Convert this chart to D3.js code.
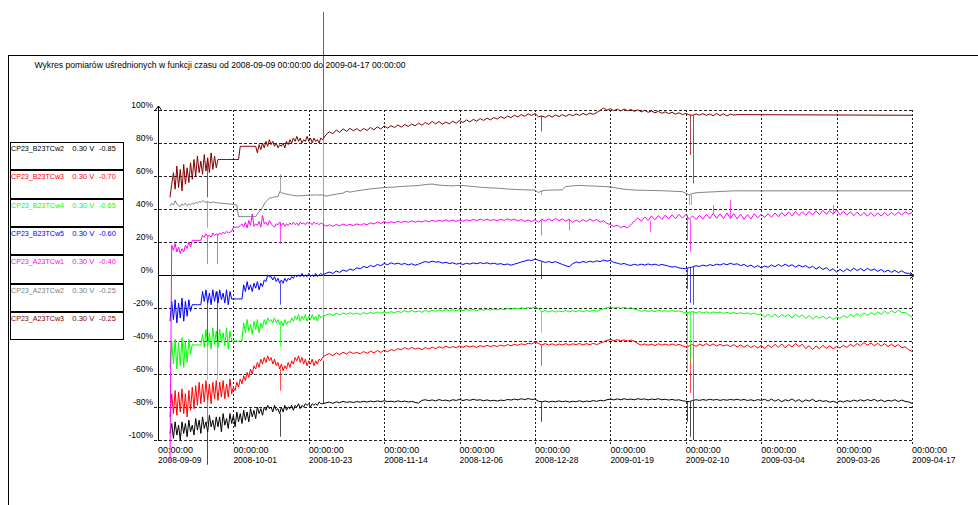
<!DOCTYPE html>
<html><head><meta charset="utf-8">
<script src="https://cdn.jsdelivr.net/npm/d3@7"></script>
<style>
body{margin:0;background:#fff;}
svg{display:block;}
text{font-family:"Liberation Sans",Arial,sans-serif;}
</style>
</head><body>
<svg id="c" width="978" height="505"></svg>
<script>
// ---------------- DATA ----------------
const titleText = "Wykres pomiarów uśrednionych w funkcji czasu od 2008-09-09 00:00:00 do 2009-04-17 00:00:00";
const xTickDates = ["2008-09-09","2008-10-01","2008-10-23","2008-11-14","2008-12-06","2008-12-28","2009-01-19","2009-02-10","2009-03-04","2009-03-26","2009-04-17"];
const xTickTimes = ["00:00:00","00:00:00","00:00:00","00:00:00","00:00:00","00:00:00","00:00:00","00:00:00","00:00:00","00:00:00","00:00:00"];
const yTicks = [100,80,60,40,20,0,-20,-40,-60,-80,-100];

const sensorNames = ["CP23_B23TCw2","CP23_B23TCw3","CP23_B23TCw4","CP23_B23TCw5","CP23_A23TCw1","CP23_A23TCw2","CP23_A23TCw3"];
const sensorVolts = ["0.30 V","0.30 V","0.30 V","0.30 V","0.30 V","0.30 V","0.30 V"];
const sensorOffsets = ["-0.85","-0.70","-0.65","-0.60","-0.40","-0.25","-0.25"];

// sampling: early values every 0.5 day from day 3.5, late values every 1 day from day 49
const earlyStart = 3.5, earlyStep = 0.5, lateStart = 49, lateStep = 1;

// CP23_B23TCw2 (black)
const B23TCw2_early = [-96,-90,-99,-89,-97,-91,-100,-89,-96,-90,-98,-88,-95,-91,
 -97,-87,-94,-88,-96,-86,-93,-89,-95,-85,-92,-88,-94,-86,
 -92,-86,-95,-84,-91,-87,-93,-84,-90,-85,-92,-83,-89,-84,
 -90,-82,-88,-83,-89,-81,-86,-82,-87,-80,-84,-81,-85,-80,
 -82,-79,-81,-80,-83,-79,-82,-81,-84,-80,-83,-79,-82,-80,
 -81,-79,-82,-79,-80,-78,-81,-79,-80,-78,-79,-78,-80,-78,
 -79,-78,-79,-77,-78,-78];
const B23TCw2_late = [-77.5,-77.0,-77.8,-76.9,-77.4,-76.6,-77.2,-76.8,-77.3,-76.7,
 -77.1,-76.5,-77.0,-76.4,-76.9,-76.3,-76.8,-76.2,-76.7,-76.5,
 -76.9,-76.3,-76.8,-76.4,-77.0,-76.6,-77.2,-77.6,-76.0,-75.6,
 -76.2,-75.7,-76.3,-75.5,-76.1,-75.8,-76.4,-75.6,-76.0,-75.4,
 -76.1,-75.5,-76.0,-75.3,-75.9,-75.6,-76.2,-75.7,-76.3,-75.9,
 -76.4,-75.8,-76.1,-75.4,-75.8,-75.2,-75.7,-75.0,-75.5,-74.9,
 -75.4,-75.2,-76.5,-76.9,-76.4,-77.0,-76.5,-76.9,-76.3,-76.8,
 -76.4,-77.0,-76.5,-76.8,-76.2,-76.9,-76.4,-76.7,-76.1,-76.6,
 -75.9,-76.3,-75.6,-75.2,-75.7,-75.1,-75.6,-75.0,-75.5,-75.2,
 -75.6,-75.0,-75.4,-75.1,-75.7,-75.2,-75.5,-75.0,-75.6,-75.3,
 -75.8,-75.4,-75.9,-75.6,-76.2,-76.5,-76.8,-76.0,-75.6,-76.0,
 -75.5,-75.9,-75.3,-75.8,-75.4,-76.0,-75.5,-75.9,-75.4,-75.8,
 -75.3,-75.9,-75.4,-76.1,-75.6,-76.2,-75.5,-76.0,-75.3,-76.4,
 -75.2,-76.5,-75.4,-76.8,-75.6,-76.3,-75.1,-76.6,-75.5,-76.9,
 -75.7,-76.4,-75.3,-76.8,-75.9,-76.6,-76.2,-77.1,-76.5,-77.3,
 -76.3,-77.0,-76.1,-76.7,-75.8,-76.5,-75.6,-76.4,-75.5,-76.2,
 -75.4,-76.5,-75.7,-76.8,-75.9,-76.4,-75.6,-76.7,-75.8,-76.6,
 -76.9,-77.8];
const B23TCw2_spikes = [[14.4,-115],[35.6,-98],[48.1,-52],[111.7,-89],[154.3,-89],[155.3,-98],[156.2,-100]];

// CP23_B23TCw3 (red)
const B23TCw3_early = [-86,-72,-84,-70,-85,-71,-83,-69,-84,-72,-86,-70,-82,-68,
 -81,-67,-79,-65,-78,-66,-77,-64,-76,-66,-78,-65,-75,-64,
 -76,-65,-74,-64,-75,-66,-74,-63,-72,-68,-70,-65,-68,-63,
 -66,-61,-64,-59,-62,-57,-60,-55,-57,-53,-56,-51,-54,-50,
 -53,-49,-52,-50,-54,-51,-55,-53,-57,-54,-58,-55,-57,-53,
 -56,-52,-54,-50,-52,-49,-53,-50,-54,-51,-55,-52,-54,-51,
 -55,-52,-54,-51,-52,-50];
const B23TCw3_late = [-48.5,-47.6,-48.9,-47.2,-48.3,-46.8,-47.9,-46.5,-47.6,-46.9,
 -47.8,-46.4,-47.5,-46.1,-47.2,-45.8,-46.9,-45.6,-46.5,-45.2,
 -45.9,-44.6,-45.3,-44.0,-45.1,-43.8,-44.9,-44.2,-45.3,-44.0,
 -44.8,-43.7,-44.6,-43.5,-44.3,-43.2,-44.1,-43.4,-44.0,-43.1,
 -43.8,-42.9,-43.6,-43.0,-43.9,-42.8,-43.5,-42.6,-43.4,-42.7,
 -43.3,-42.5,-43.1,-42.2,-42.9,-42.0,-42.6,-41.7,-42.3,-41.4,
 -41.8,-40.6,-41.5,-42.4,-41.6,-42.5,-41.7,-42.6,-41.8,-42.4,
 -41.6,-42.5,-41.7,-42.2,-41.5,-42.4,-41.6,-42.3,-41.4,-42.2,
 -41.3,-40.5,-39.6,-39.0,-39.8,-39.2,-39.9,-39.3,-40.0,-39.4,
 -40.2,-41.6,-42.5,-41.8,-42.6,-41.9,-42.8,-41.7,-42.5,-41.9,
 -42.6,-41.8,-42.7,-42.0,-42.9,-43.5,-43.0,-42.1,-43.2,-41.9,
 -42.8,-41.6,-42.9,-41.8,-43.1,-42.0,-43.0,-42.3,-43.4,-42.2,
 -43.6,-42.4,-43.8,-42.5,-44.0,-42.7,-44.3,-42.6,-44.8,-42.4,
 -44.1,-42.0,-43.9,-41.8,-44.2,-42.1,-43.6,-41.5,-43.3,-42.0,
 -44.6,-42.8,-45.2,-43.0,-44.7,-42.6,-44.5,-42.9,-44.8,-43.3,
 -44.2,-42.6,-43.9,-42.0,-43.3,-41.5,-42.8,-40.9,-42.6,-41.2,
 -42.9,-41.4,-43.1,-41.6,-43.4,-41.9,-43.5,-42.2,-44.0,-43.6,
 -45.2,-46.3];
const B23TCw3_spikes = [[14.4,-90],[35.6,-70],[48.1,-25],[111.7,-55],[155.3,-71.5],[156.2,-76]];

// CP23_B23TCw4 (green)
const B23TCw4_early = [-56,-40,-54,-39,-57,-41,-55,-38,-56,-40,-53,-39,-48,-42,
 -42.4,-42.4,-42.4,-42.4,-42.5,-36,-44,-33,-43,-35,-45,-32,-42,-34,
 -44,-33,-41,-35,-43,-32,-45,-34,-40,-40,-40,-40,-40,-40,
 -40,-29,-35,-27,-34,-30,-36,-28,-33,-27,-35,-29,-32,-27,
 -30,-26,-28,-27,-29,-26,-29,-27,-30,-28,-31,-27,-30,-28,
 -29,-26,-28,-25,-27,-24,-28,-25,-27,-24,-28,-25,-27,-24,
 -27,-25,-28,-24,-26,-25];
const B23TCw4_late = [-24.3,-23.5,-24.6,-23.2,-24.1,-23.0,-23.8,-22.9,-23.7,-23.1,
 -23.9,-22.8,-23.6,-22.6,-23.4,-22.4,-23.2,-22.3,-23.0,-22.2,
 -22.9,-21.9,-22.7,-21.6,-22.5,-21.5,-22.4,-21.8,-22.6,-21.4,
 -22.2,-21.3,-22.0,-21.2,-21.9,-21.0,-21.8,-21.1,-21.7,-20.9,
 -21.6,-20.8,-21.5,-20.9,-21.7,-20.8,-21.4,-20.7,-21.3,-20.6,
 -21.2,-20.5,-21.0,-20.3,-20.8,-20.1,-20.6,-19.9,-20.4,-19.7,
 -20.1,-19.4,-20.3,-22.3,-21.5,-22.4,-21.6,-22.5,-21.7,-22.3,
 -21.5,-22.4,-21.6,-22.2,-21.4,-22.3,-21.5,-22.1,-21.3,-22.0,
 -21.2,-20.6,-19.8,-19.4,-20.1,-19.5,-20.2,-19.6,-20.3,-19.8,
 -20.6,-21.3,-22.0,-21.4,-22.1,-21.5,-22.2,-21.3,-22.0,-21.6,
 -22.1,-21.5,-22.2,-21.7,-22.3,-23.0,-22.6,-22.1,-23.0,-22.2,
 -23.1,-22.3,-23.2,-22.4,-23.0,-22.5,-23.3,-22.6,-23.4,-22.7,
 -23.5,-22.8,-23.6,-22.9,-23.8,-23.1,-24.2,-23.5,-25.6,-23.8,
 -25.4,-23.6,-25.8,-23.9,-25.2,-24.0,-26.1,-23.8,-25.5,-24.2,
 -26.3,-24.5,-26.8,-24.9,-26.2,-25.0,-26.6,-25.3,-27.0,-25.6,
 -26.2,-24.5,-25.8,-23.9,-25.2,-23.4,-24.8,-23.0,-24.6,-22.8,
 -24.1,-22.4,-23.8,-21.9,-23.5,-21.6,-23.0,-21.4,-22.8,-22.6,
 -24.2,-25.5];
const B23TCw4_spikes = [[14.4,-63.6],[17.2,-63.6],[35.6,-43.6],[48.1,0],[111.7,-35],[154.3,-59],[155.3,-52],[156.2,-55]];

// CP23_B23TCw5 (blue)
const B23TCw5_early = [-28,-16,-27,-15,-29,-17,-26,-14,-28,-16,-25,-15,-22,-18,
 -18,-18,-18,-18,-18,-10,-16,-9,-17,-11,-18,-9,-16,-10,
 -17,-9,-15,-11,-17,-9,-18,-10,-14.5,-14.5,-14.5,-14.5,-14.5,-14.5,
 -14.5,-6,-10,-4,-9,-6,-10,-5,-8,-4,-9,-5,-7,-3,
 -4,0,-1,-1,-3,-1,-4,-2,-5,-3,-5,-2,-4,-2,
 -3,-1,-2,0,-1,0,-1,1,-1,0,-1,1,-1,0,
 -1,1,-1,0,1,0];
const B23TCw5_late = [1.0,1.8,0.9,2.4,1.6,3.0,2.2,3.6,2.9,4.3,
 3.8,5.2,4.4,5.8,5.0,6.4,5.6,7.0,6.2,7.4,
 6.6,7.2,6.4,7.0,6.1,6.8,5.9,6.6,7.4,8.2,
 7.6,8.4,7.8,8.0,7.2,7.7,6.9,7.4,6.6,7.0,
 6.4,7.1,6.6,7.3,6.8,7.5,6.9,7.4,6.7,7.2,
 6.5,6.9,6.2,6.7,5.9,6.6,7.2,7.9,8.4,9.1,
 8.8,9.6,9.0,8.3,7.6,8.2,7.5,8.1,7.2,6.4,
 5.6,5.0,6.8,7.9,7.4,8.2,7.6,8.4,7.8,8.6,
 8.1,9.0,8.4,8.8,7.6,7.2,6.5,7.0,6.2,5.8,
 6.5,5.9,6.6,6.0,6.7,6.1,6.6,5.8,6.4,5.9,
 5.4,4.8,5.1,4.3,4.0,3.8,4.5,4.9,5.6,5.2,
 6.0,5.4,6.3,5.7,6.6,6.0,6.9,6.2,7.1,6.4,
 6.8,5.7,6.4,5.1,6.0,4.6,5.7,4.3,5.4,4.7,
 6.1,5.0,6.4,5.2,6.6,5.3,6.2,4.8,6.0,4.9,
 5.7,4.2,5.3,3.6,5.0,3.3,4.4,2.6,3.8,1.7,
 3.4,2.0,3.8,2.4,4.1,2.7,3.9,2.5,4.0,2.8,
 3.6,2.2,3.3,1.8,3.0,1.6,2.8,1.4,2.6,1.2,
 1.0,0.0];
const B23TCw5_spikes = [[14.4,-40],[17.2,-40],[35.6,-18],[48.1,31],[111.7,-2.4],[154.3,-8.6],[155.3,-17],[156.2,-18]];

// CP23_A23TCw1 (magenta)
const A23TCw1_early = [-113,18,15,19,14,17,13,16,14,18,16,20,17,21,
 21,21,21,21,21,24,23,25,23.5,24,23,25.5,24,25,
 24,25.5,24.5,26,25,26.5,25.5,26,26.5,29,29,29,29,30,
 31,29,32,28.5,33,30,37,29.5,31,30,32.5,29,36,31,
 32,30,33,31,30,29,31,30.5,32,30,31.5,29.5,31,30,
 31.5,30.5,32,30.5,31.5,30,32,31,31.5,30.5,32,31,31.5,30.5,
 32,31,31.5,30.5,31.5,31];
const A23TCw1_late = [29.6,30.4,29.5,30.6,29.8,30.9,30.0,30.7,29.9,31.0,
 30.2,31.1,30.5,31.6,30.9,32.0,31.2,32.4,31.5,32.3,
 31.6,32.5,31.8,32.6,31.9,32.8,32.0,32.7,32.1,33.0,
 32.2,33.1,32.4,33.2,32.5,33.4,32.6,33.3,32.5,33.2,
 32.6,33.5,32.8,33.7,33.0,33.9,33.1,33.8,33.0,33.6,
 32.9,33.8,33.1,34.0,33.2,33.9,32.8,33.6,32.5,33.3,
 32.4,33.5,31.9,33.8,32.6,34.1,32.8,34.3,32.9,34.0,
 32.5,33.8,31.8,33.4,32.2,33.6,32.4,33.9,32.6,33.7,
 32.0,32.9,31.2,30.6,29.4,30.2,28.8,29.5,28.6,30.4,
 32.8,34.6,32.5,35.2,33.0,35.8,33.4,36.0,33.7,36.3,
 34.0,36.5,34.2,36.8,34.5,36.6,33.8,35.9,33.6,36.2,
 33.9,36.8,34.2,37.4,34.4,37.0,34.1,37.6,34.3,37.2,
 34.0,36.9,33.8,36.6,33.9,37.2,34.6,36.9,34.8,37.3,
 35.0,37.6,35.3,37.9,35.6,38.2,35.9,38.5,36.0,38.3,
 36.2,38.6,36.4,38.9,36.6,39.2,36.8,39.0,36.9,39.4,
 36.5,38.7,36.2,38.4,35.9,38.1,35.8,37.9,35.6,37.8,
 35.5,37.6,35.7,37.9,35.9,38.0,36.1,38.2,36.3,38.4,
 37.0,37.8];
const A23TCw1_spikes = [[14.4,6.7],[17.2,6.7],[35.6,19],[48.1,48.5],[111.7,24],[120,27],[143.5,26],[154.3,21],[155.3,14],[162,42.4],[167,45.5],[197,42.4]];

// CP23_A23TCw2 (grey)
const A23TCw2_early = [41.8,43.5,42.5,45,43,42,41.5,43,42.5,43.5,42,43,42.5,43.5,
 43,44,43.5,44.5,44,45,44.5,44,44.5,44,43.8,44.2,44,43.8,
 43.7,43.6,43.5,43.4,43.3,43.2,43.1,43.0,42.9,42.8,42.6,42.4,35.4,35.4,
 35.4,35.4,35.4,35.4,35.4,35.4,35.4,35.4,35.4,37,38.5,39,41,43,
 44.5,45.5,46.5,46.8,47,47.5,47.3,47.5,50.5,50,49.5,49.2,49,48.8,
 48.6,48.4,48.2,48.1,47.9,48,48.2,48,48.1,48.3,48.2,48.4,48.3,48.5,
 48.4,48.6,48.5,48.4,48.6,48.5];
const A23TCw2_late = [47.8,48.2,48.6,49.0,49.3,49.6,50.8,50.2,50.6,51.0,
 51.3,51.6,51.9,52.2,52.4,52.6,52.8,53.0,53.1,53.2,
 53.3,53.5,53.6,53.8,53.9,54.0,54.1,54.2,54.5,54.8,
 55.0,55.1,54.8,54.5,54.3,54.2,54.1,54.0,54.2,54.3,
 54.2,54.0,53.8,53.6,53.4,53.2,53.0,52.9,52.8,52.7,
 52.6,52.5,52.3,52.1,52.0,51.9,51.8,51.7,51.6,51.6,
 51.5,51.4,50.0,51.0,51.3,51.4,51.5,51.5,51.6,51.6,
 53.6,53.8,54.0,54.2,54.3,54.2,54.1,54.0,53.9,53.8,
 53.7,53.6,53.5,53.3,53.0,52.6,52.3,52.0,51.8,51.6,
 51.5,51.4,51.4,51.3,51.3,51.2,51.2,51.1,51.1,51.0,
 50.9,50.8,50.7,50.6,50.5,49.5,48.5,49.4,49.8,50.0,
 50.1,50.2,50.3,50.4,50.5,50.6,50.7,50.8,50.9,51.0,
 51.0];
const A23TCw2_tail = [220, 51.0];
const A23TCw2_spikes = [[14.4,28.7],[35.6,61],[48.1,82],[111.7,48.5],[154.8,42.4],[155.5,42.4]];

// CP23_A23TCw3 (dark red)
const A23TCw3_early = [47,55,62,52,66,53,64,51,67,55,65,56,68,58,
 70,60,72,62,69,61,73,63,71,62,74,64,72,65,
 70,70,70,70,70,70,70,70,70,70,70,70,70,78,
 78,78,78,78,78,78,78,78,78,74,79,76,80,77,
 81,78,82,79,81,78,80,77,79,78,80,77,81,79,
 82,80,83,81,84,81,83,80,82,81,84,81,83,80,
 83,81,82,80,83,82];
const A23TCw3_late = [85.0,86.8,85.6,87.9,86.4,88.6,87.1,88.9,87.4,88.7,
 87.2,88.8,87.6,89.4,88.0,89.8,88.5,90.3,89.0,90.5,
 89.3,90.9,89.6,91.2,90.0,91.5,90.4,92.0,90.8,92.4,
 91.3,93.1,91.6,93.0,91.4,92.7,91.6,93.2,92.0,93.6,
 92.4,94.0,92.8,94.3,93.2,94.8,93.7,95.1,94.0,95.4,
 94.5,96.0,94.9,96.3,95.4,96.8,95.8,97.2,96.2,97.6,
 96.7,97.9,95.9,96.4,95.5,96.8,95.7,97.0,96.0,97.2,
 96.2,97.4,96.5,97.6,96.7,97.9,97.0,98.1,97.4,98.4,
 99.8,101.2,99.9,100.8,99.6,100.5,99.4,100.6,99.5,100.3,
 99.2,100.1,98.9,99.8,98.6,99.4,98.3,99.2,98.0,98.9,
 97.8,98.6,97.5,98.3,97.2,97.9,97.0,96.8,97.6,96.9,
 97.8,96.7,97.6,96.5,97.9,96.6,97.7,96.4,97.5,96.9,
 97.2];
const A23TCw3_tail = [220, 96.8];
const A23TCw3_spikes = [[14.4,47],[48.1,159.4],[111.7,87],[155.3,72.7],[156.2,55.5]];

// ---------------- STYLE ----------------
const seriesColors = ["#000000","#ff0000","#00ff00","#0000ff","#ff00ff","#808080","#800000"];

const series = [
  {early:B23TCw2_early, late:B23TCw2_late, tail:null, spikes:B23TCw2_spikes},
  {early:B23TCw3_early, late:B23TCw3_late, tail:null, spikes:B23TCw3_spikes},
  {early:B23TCw4_early, late:B23TCw4_late, tail:null, spikes:B23TCw4_spikes},
  {early:B23TCw5_early, late:B23TCw5_late, tail:null, spikes:B23TCw5_spikes},
  {early:A23TCw1_early, late:A23TCw1_late, tail:null, spikes:A23TCw1_spikes},
  {early:A23TCw2_early, late:A23TCw2_late, tail:A23TCw2_tail, spikes:A23TCw2_spikes},
  {early:A23TCw3_early, late:A23TCw3_late, tail:A23TCw3_tail, spikes:A23TCw3_spikes}
];

// ---------------- CHART ----------------
const svg = d3.select("#c");
const parse = d3.utcParse("%Y-%m-%d");
const t0 = parse(xTickDates[0]).getTime();
const dayDate = d => new Date(t0 + d * 864e5);
const x = d3.scaleUtc().domain([parse(xTickDates[0]), parse(xTickDates[xTickDates.length-1])]).range([158, 912]);
const y = d3.scaleLinear().domain([-100, 100]).range([440, 110]);
const X = d => x(dayDate(d));

// outer frame
svg.append("line").attr("x1",8).attr("x2",978).attr("y1",55.5).attr("y2",55.5).attr("stroke","#000").attr("shape-rendering","crispEdges");
svg.append("line").attr("x1",8.5).attr("x2",8.5).attr("y1",55).attr("y2",505).attr("stroke","#000").attr("shape-rendering","crispEdges");

// title
svg.append("text").attr("x",34.5).attr("y",68).attr("font-size",8.5).attr("fill","#000")
  .attr("textLength",371).attr("lengthAdjust","spacingAndGlyphs").text(titleText);

// grid horizontal
const g = svg.append("g");
yTicks.filter(v => v !== 0).forEach(v => {
  g.append("line").attr("x1",154).attr("x2",912).attr("y1",Math.round(y(v))+0.5).attr("y2",Math.round(y(v))+0.5)
   .attr("stroke","#222").attr("stroke-dasharray","3,2").attr("shape-rendering","crispEdges");
});
// grid vertical
xTickDates.slice(1).forEach(s => {
  const xx = Math.round(x(parse(s))) + 0.5;
  g.append("line").attr("x1",xx).attr("x2",xx).attr("y1",110).attr("y2",444)
   .attr("stroke","#222").attr("stroke-dasharray","2,2").attr("shape-rendering","crispEdges");
});

// axes
const ax0 = Math.round(x(parse(xTickDates[0]))) + 0.5;
const ay0 = Math.round(y(0)) + 0.5;
svg.append("line").attr("x1",ax0).attr("x2",ax0).attr("y1",106).attr("y2",441).attr("stroke","#000").attr("shape-rendering","crispEdges");
svg.append("path").attr("d",`M${ax0-3},${110} L${ax0},${106} L${ax0+3},${110}`).attr("fill","none").attr("stroke","#000");
svg.append("line").attr("x1",ax0).attr("x2",913).attr("y1",ay0).attr("y2",ay0).attr("stroke","#000").attr("shape-rendering","crispEdges");
svg.append("path").attr("d",`M${910},${ay0-3} L${914},${ay0} L${910},${ay0+3}`).attr("fill","none").attr("stroke","#000");

// y labels
yTicks.forEach(v => {
  svg.append("text").attr("x",153).attr("y",y(v)-2).attr("text-anchor","end").attr("font-size",8.5).attr("fill","#000").text(v + "%");
});
// x labels
xTickDates.forEach((s,i) => {
  const xx = x(parse(s));
  svg.append("text").attr("x",xx).attr("y",452.5).attr("font-size",9).attr("fill","#000").text(xTickTimes[i]);
  svg.append("text").attr("x",xx).attr("y",463).attr("font-size",9).attr("fill","#000")
     .attr("textLength",43.5).attr("lengthAdjust","spacingAndGlyphs").text(s);
});

// series
const line = d3.line().x(d => X(d[0])).y(d => y(d[1]));
const plot = svg.append("g");
series.forEach((s, i) => {
  const pts = s.early.map((v,k) => [earlyStart + earlyStep*k, v])
    .concat(s.late.map((v,k) => [lateStart + lateStep*k, v]));
  if (s.tail) pts.push(s.tail);
  const col = seriesColors[i];
  plot.append("path").attr("d", line(pts)).attr("fill","none").attr("stroke", col).attr("stroke-width",1);
  s.spikes.forEach(sp => {
    const near = pts.reduce((a,b) => Math.abs(b[0]-sp[0]) < Math.abs(a[0]-sp[0]) ? b : a);
    const xx = Math.round(X(sp[0])) + 0.5;
    plot.append("line").attr("x1",xx).attr("x2",xx).attr("y1",y(near[1])).attr("y2",y(sp[1]))
      .attr("stroke", col).attr("stroke-width",1).attr("stroke-opacity",0.7);
  });
});

// legend
const leg = svg.append("g");
sensorNames.forEach((n,i) => {
  const top = 142 + Math.round(i * 28.33);
  const next = 142 + Math.round((i+1) * 28.33);
  leg.append("rect").attr("x",10.5).attr("y",top+0.5).attr("width",113).attr("height",next-top-1)
     .attr("fill","#fff").attr("stroke","#000").attr("shape-rendering","crispEdges");
  const col = seriesColors[i];
  leg.append("text").attr("x",11).attr("y",top+8.5).attr("font-size",8).attr("fill",col)
     .attr("textLength",53).attr("lengthAdjust","spacingAndGlyphs").text(n);
  leg.append("text").attr("x",72.3).attr("y",top+8.5).attr("font-size",8).attr("fill",col)
     .attr("textLength",22).attr("lengthAdjust","spacingAndGlyphs").text(sensorVolts[i]);
  leg.append("text").attr("x",99).attr("y",top+8.5).attr("font-size",8).attr("fill",col)
     .attr("textLength",16.7).attr("lengthAdjust","spacingAndGlyphs").text(sensorOffsets[i]);
});
</script>
</body></html>
